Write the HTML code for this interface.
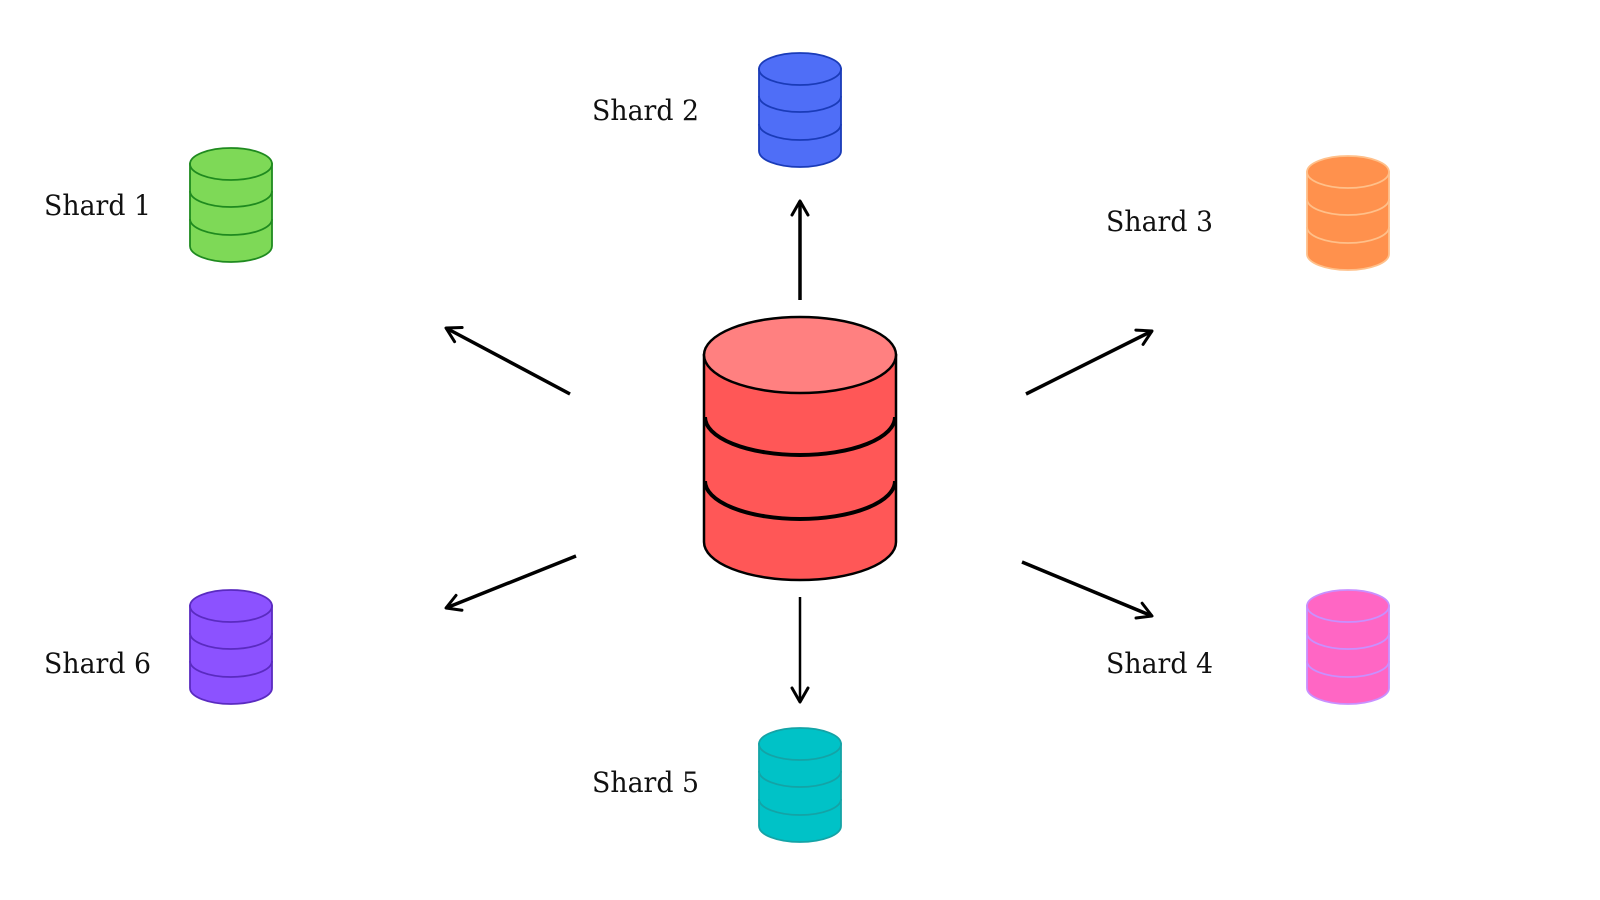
<!DOCTYPE html>
<html><head><meta charset="utf-8"><style>html,body{margin:0;padding:0;background:#fff}svg{display:block}</style></head>
<body>
<svg width="1600" height="900" viewBox="0 0 1600 900" xmlns="http://www.w3.org/2000/svg">
<defs>
<marker id="ah" viewBox="0 0 20 20" refX="17" refY="10" markerWidth="20" markerHeight="20" markerUnits="userSpaceOnUse" orient="auto">
<path d="M3,2 L17,10 L3,18" fill="none" stroke="#000" stroke-width="3" stroke-linecap="round" stroke-linejoin="round"/>
</marker>
</defs>
<g stroke="#000" stroke-width="3.5" marker-end="url(#ah)">
<line x1="800" y1="300" x2="800" y2="201"/>
<line x1="570" y1="394" x2="446" y2="328"/>
<line x1="1026" y1="394" x2="1152" y2="331"/>
<line x1="576" y1="556" x2="446" y2="608"/>
<line x1="1022" y1="562" x2="1152" y2="616"/>
<line x1="800" y1="597" x2="800" y2="702" stroke-width="2.5"/>
</g>
<!-- central -->
<g stroke="#000" stroke-width="2.5">
<path d="M704,355 L704,542 A96,38 0 0 0 896,542 L896,355 Z" fill="#ff5757"/>
<path d="M705,417 A95,38 0 0 0 895,417" fill="none" stroke-width="4"/>
<path d="M705,481 A95,38 0 0 0 895,481" fill="none" stroke-width="4"/>
<ellipse cx="800" cy="355" rx="96" ry="38" fill="#ff8080"/>
</g>
<!-- small cylinders -->
<g stroke-width="1.8">
<g stroke="#1f8a1f" fill="#7ed957" transform="translate(231,148)">
<path d="M-41,16 L-41,98 A41,16 0 0 0 41,98 L41,16 Z"/><path d="M-41,43 A41,16 0 0 0 41,43 M-41,71 A41,16 0 0 0 41,71" fill="none"/><ellipse cx="0" cy="16" rx="41" ry="16"/></g>
<g stroke="#1a3bb8" fill="#4f6ef7" transform="translate(800,53)">
<path d="M-41,16 L-41,98 A41,16 0 0 0 41,98 L41,16 Z"/><path d="M-41,43 A41,16 0 0 0 41,43 M-41,71 A41,16 0 0 0 41,71" fill="none"/><ellipse cx="0" cy="16" rx="41" ry="16"/></g>
<g stroke="#ffc08a" fill="#ff914d" transform="translate(1348,156)">
<path d="M-41,16 L-41,98 A41,16 0 0 0 41,98 L41,16 Z"/><path d="M-41,43 A41,16 0 0 0 41,43 M-41,71 A41,16 0 0 0 41,71" fill="none"/><ellipse cx="0" cy="16" rx="41" ry="16"/></g>
<g stroke="#c890ff" fill="#ff66c4" transform="translate(1348,590)">
<path d="M-41,16 L-41,98 A41,16 0 0 0 41,98 L41,16 Z"/><path d="M-41,43 A41,16 0 0 0 41,43 M-41,71 A41,16 0 0 0 41,71" fill="none"/><ellipse cx="0" cy="16" rx="41" ry="16"/></g>
<g stroke="#14a3a6" fill="#00c2c7" transform="translate(800,728)">
<path d="M-41,16 L-41,98 A41,16 0 0 0 41,98 L41,16 Z"/><path d="M-41,43 A41,16 0 0 0 41,43 M-41,71 A41,16 0 0 0 41,71" fill="none"/><ellipse cx="0" cy="16" rx="41" ry="16"/></g>
<g stroke="#5a2bc0" fill="#8c52ff" transform="translate(231,590)">
<path d="M-41,16 L-41,98 A41,16 0 0 0 41,98 L41,16 Z"/><path d="M-41,43 A41,16 0 0 0 41,43 M-41,71 A41,16 0 0 0 41,71" fill="none"/><ellipse cx="0" cy="16" rx="41" ry="16"/></g>
</g>
<g font-family="'DejaVu Serif','Liberation Serif',serif" font-size="28" fill="#111">
<text x="44" y="215" textLength="107" lengthAdjust="spacingAndGlyphs">Shard 1</text>
<text x="592" y="120" textLength="107" lengthAdjust="spacingAndGlyphs">Shard 2</text>
<text x="1106" y="231" textLength="107" lengthAdjust="spacingAndGlyphs">Shard 3</text>
<text x="1106" y="673" textLength="107" lengthAdjust="spacingAndGlyphs">Shard 4</text>
<text x="592" y="792" textLength="107" lengthAdjust="spacingAndGlyphs">Shard 5</text>
<text x="44" y="673" textLength="107" lengthAdjust="spacingAndGlyphs">Shard 6</text>
</g>
</svg>
</body></html>
